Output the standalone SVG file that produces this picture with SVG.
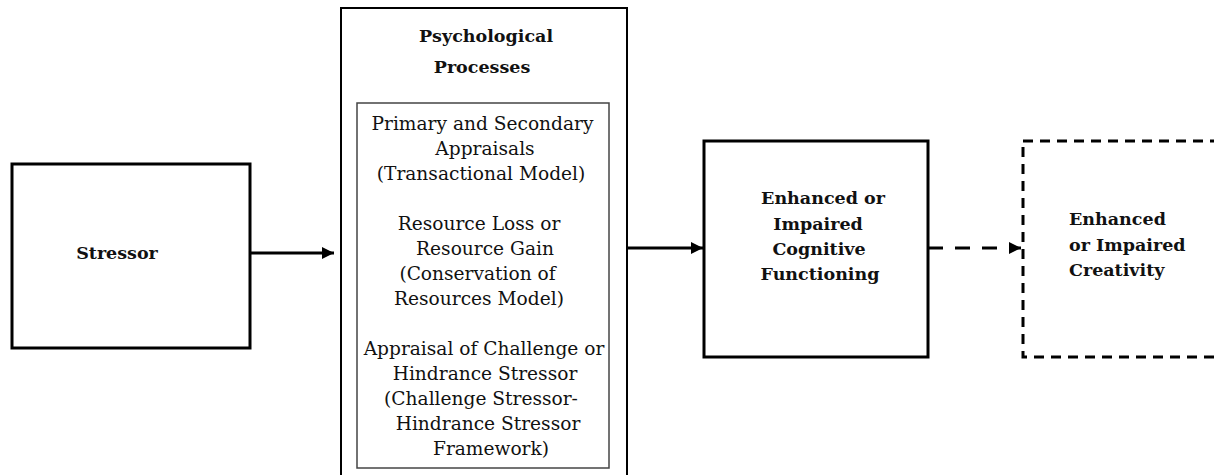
<svg xmlns="http://www.w3.org/2000/svg" width="1214" height="475" viewBox="0 0 1214 475">
<style>
.box{fill:#fff;stroke:#000;stroke-width:3}
.thin{fill:#fff;stroke:#000;stroke-width:2}
.inner{fill:#fff;stroke:#444;stroke-width:1.5}
.dash{fill:#fff;stroke:#000;stroke-width:3;stroke-dasharray:10 7}
.t{font-family:"DejaVu Serif","Liberation Serif",serif;font-size:18.6px;fill:#111;text-anchor:middle}
.b{font-family:"DejaVu Serif","Liberation Serif",serif;font-size:17.5px;font-weight:bold;fill:#111;text-anchor:middle}
.c{stroke:#000;stroke-width:3;fill:none}
</style>
<defs>
<marker id="ah" viewBox="0 0 10 10" refX="10" refY="5" markerWidth="4" markerHeight="4" markerUnits="strokeWidth" orient="auto">
<path d="M0,0 L10,5 L0,10 z" fill="#000"/>
</marker>
</defs>
<rect width="1214" height="475" fill="#fff"/>
<g id="stressor">
<rect class="box" x="12" y="164" width="238" height="184"/>
<text class="b" x="117" y="259">Stressor</text>
</g>
<g id="psych">
<rect class="thin" x="341" y="8" width="286" height="480"/>
<text class="b" x="486" y="42">Psychological</text>
<text class="b" x="482" y="73">Processes</text>
<rect class="inner" x="357" y="103" width="252" height="365"/>
<text class="t" x="482.5" y="130">Primary and Secondary</text>
<text class="t" x="485" y="155">Appraisals</text>
<text class="t" x="481" y="180">(Transactional Model)</text>
<text class="t" x="479" y="230">Resource Loss or</text>
<text class="t" x="485" y="255">Resource Gain</text>
<text class="t" x="477.5" y="280">(Conservation of</text>
<text class="t" x="479" y="305">Resources Model)</text>
<text class="t" x="484" y="355">Appraisal of Challenge or</text>
<text class="t" x="485" y="380">Hindrance Stressor</text>
<text class="t" x="481" y="405">(Challenge Stressor-</text>
<text class="t" x="488" y="430">Hindrance Stressor</text>
<text class="t" x="491" y="455">Framework)</text>
</g>
<g id="cognitive">
<rect class="box" x="704" y="141" width="224" height="216"/>
<text class="b" x="823" y="204">Enhanced or</text>
<text class="b" x="818" y="230">Impaired</text>
<text class="b" x="819" y="255">Cognitive</text>
<text class="b" x="820" y="280">Functioning</text>
</g>
<g id="creativity">
<rect class="dash" x="1023" y="141" width="200" height="216"/>
<text class="b" x="1069" y="225" style="text-anchor:start">Enhanced</text>
<text class="b" x="1069" y="251" style="text-anchor:start">or Impaired</text>
<text class="b" x="1069" y="276" style="text-anchor:start">Creativity</text>
</g>
<g id="connectors">
<line class="c" x1="250" y1="253" x2="334" y2="253" marker-end="url(#ah)"/>
<line class="c" x1="628" y1="248" x2="703" y2="248" marker-end="url(#ah)"/>
<line class="c" x1="928" y1="248" x2="1021" y2="248" stroke-dasharray="15 12" marker-end="url(#ah)"/>
</g>
</svg>
